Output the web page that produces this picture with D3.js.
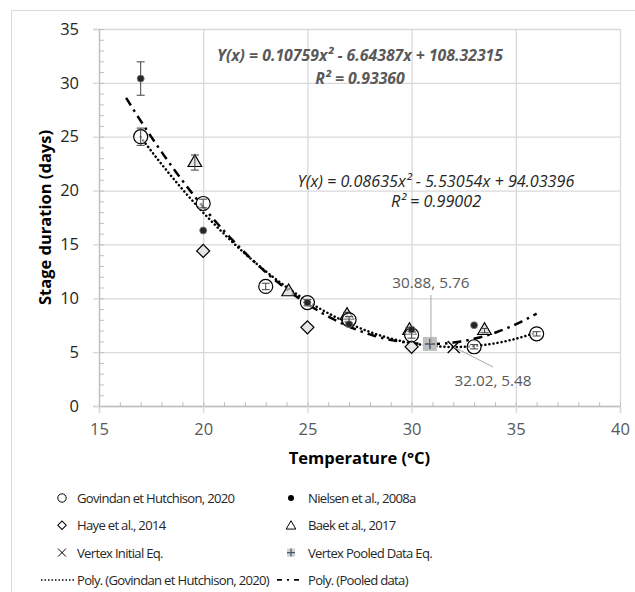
<!DOCTYPE html>
<html>
<head>
<meta charset="utf-8">
<script src="https://cdn.jsdelivr.net/npm/d3@7"></script>
<style>
  body { margin: 0; background: #fff; }
  text { font-family: "Open Sans", "Noto Sans", sans-serif; }
</style>
</head>
<body>
<div id="chart"></div>
<script>
// tick values
var x_ticks = [15, 20, 25, 30, 35, 40];
var y_ticks = [0, 5, 10, 15, 20, 25, 30, 35];

// Govindan et Hutchison, 2020
var gov_temp = [17, 20, 23, 25, 27, 30, 33, 36];
var gov_days = [25.0, 18.8, 11.1, 9.6, 8.0, 6.6, 5.5, 6.7];
var gov_err  = [0.8, 0.4, 0.3, 0.3, 0.3, 0.3, 0.2, 0.2];

// Nielsen et al., 2008a
var niel_temp = [17, 20, 25, 27, 30, 33];
var niel_days = [30.4, 16.3, 9.6, 7.6, 7.1, 7.5];
var niel_err  = [1.55, 0, 0, 0, 0, 0];

// Haye et al., 2014
var haye_temp = [20, 25, 30];
var haye_days = [14.4, 7.3, 5.5];

// Baek et al., 2017
var baek_temp = [19.6, 24.1, 26.9, 29.9, 33.5];
var baek_days = [22.6, 10.6, 8.4, 7.0, 7.0];
var baek_err  = [0.7, 0, 0.3, 0.3, 0.2];

// vertices
var vertex_initial = [32.02, 5.48];
var vertex_pooled = [30.88, 5.76];

// trendline coefficients (a, b, c) and x range
var gov_fit = [0.08635, -5.53054, 94.03396];
var gov_fit_range = [17, 36];
var pooled_fit = [0.10759, -6.64387, 108.32315];
var pooled_fit_range = [16.3, 36];

var chart_width = 635;
var chart_height = 592;
var left = 99, right = 620, top_ = 29, bottom = 406;

var svg = d3.select('#chart')
  .append('svg')
  .attr('width', chart_width)
  .attr('height', chart_height);

// chart border
svg.append('rect')
  .attr('x', 11.5).attr('y', 10.5)
  .attr('width', 640).attr('height', 600)
  .attr('fill', 'none')
  .attr('stroke', '#d9d9d9');

var x_scale = d3.scaleLinear().domain([15, 40]).range([left, right]);
var y_scale = d3.scaleLinear().domain([0, 35]).range([bottom, top_]);

// gridlines
svg.append('g')
  .attr('transform', 'translate(0,' + bottom + ')')
  .call(d3.axisBottom(x_scale).tickValues(x_ticks).tickSize(-(bottom - top_)).tickFormat(''))
  .call(function(g){
    g.select('.domain').remove();
    g.selectAll('line').attr('stroke', '#d9d9d9').attr('stroke-width', 1.3);
  });
svg.append('g')
  .attr('transform', 'translate(' + left + ',0)')
  .call(d3.axisLeft(y_scale).tickValues(y_ticks).tickSize(-(right - left)).tickFormat(''))
  .call(function(g){
    g.select('.domain').remove();
    g.selectAll('line').attr('stroke', '#d9d9d9').attr('stroke-width', 1.3);
  });

// minor ticks
svg.append('g')
  .attr('transform', 'translate(0,' + bottom + ')')
  .call(d3.axisBottom(x_scale).ticks(25).tickSize(-4).tickFormat(''))
  .call(function(g){
    g.select('.domain').remove();
    g.selectAll('line').attr('stroke', '#bfbfbf');
  });
svg.append('g')
  .attr('transform', 'translate(' + left + ',0)')
  .call(d3.axisLeft(y_scale).ticks(35).tickSize(-5).tickFormat(''))
  .call(function(g){
    g.select('.domain').remove();
    g.selectAll('line').attr('stroke', '#bfbfbf');
  });

// main axes
svg.append('g')
  .attr('transform', 'translate(0,' + bottom + ')')
  .call(d3.axisBottom(x_scale).tickValues(x_ticks).tickSize(7).tickPadding(10))
  .call(function(g){
    g.select('.domain').attr('stroke', '#bfbfbf').attr('stroke-width', 1.3);
    g.selectAll('line').attr('stroke', '#d9d9d9').attr('stroke-width', 1.3);
    g.selectAll('text').attr('font-size', 16.5).attr('fill', '#595959')
      .attr('font-family', '"Open Sans", sans-serif');
  });
svg.append('g')
  .attr('transform', 'translate(' + left + ',0)')
  .call(d3.axisLeft(y_scale).tickValues(y_ticks).tickSize(6).tickPadding(14))
  .call(function(g){
    g.select('.domain').attr('stroke', '#bfbfbf').attr('stroke-width', 1.3);
    g.selectAll('line').attr('stroke', '#d9d9d9').attr('stroke-width', 1.3);
    g.selectAll('text').attr('font-size', 16.5).attr('fill', '#262626')
      .attr('font-family', '"Open Sans", sans-serif');
  });

// axis titles
svg.append('text')
  .attr('x', (left + right) / 2).attr('y', 464)
  .attr('text-anchor', 'middle')
  .attr('font-size', 16.5).attr('font-weight', 'bold')
  .text('Temperature (°C)');
svg.append('text')
  .attr('transform', 'translate(51,' + (top_ + bottom) / 2 + ') rotate(-90)')
  .attr('text-anchor', 'middle')
  .attr('font-size', 16.5).attr('font-weight', 'bold')
  .text('Stage duration (days)');

// trendlines
function poly(c){ return function(x){ return c[0] * x * x + c[1] * x + c[2]; }; }
var line = d3.line()
  .x(function(d){ return x_scale(d[0]); })
  .y(function(d){ return y_scale(d[1]); });

var gov_curve = d3.range(gov_fit_range[0], gov_fit_range[1] + 0.001, 0.1)
  .map(function(x){ return [x, poly(gov_fit)(x)]; });
var pooled_curve = d3.range(pooled_fit_range[0], pooled_fit_range[1] + 0.001, 0.1)
  .map(function(x){ return [x, poly(pooled_fit)(x)]; });

svg.append('path')
  .attr('d', line(pooled_curve))
  .attr('fill', 'none').attr('stroke', '#000').attr('stroke-width', 2.5)
  .attr('stroke-dasharray', '9,5,2.5,5');
svg.append('path')
  .attr('d', line(gov_curve))
  .attr('fill', 'none').attr('stroke', '#000').attr('stroke-width', 2.5)
  .attr('stroke-linecap', 'round')
  .attr('stroke-dasharray', '0.1,4');

function zip(t, d, e){
  return t.map(function(v, i){ return { t: v, d: d[i], e: e ? e[i] : 0 }; });
}
var gov = zip(gov_temp, gov_days, gov_err);
var niel = zip(niel_temp, niel_days, niel_err);
var haye = zip(haye_temp, haye_days);
var baek = zip(baek_temp, baek_days, baek_err);

function error_bars(data){
  var g = svg.append('g').attr('stroke', '#404040').attr('stroke-width', 1);
  data.filter(function(d){ return d.e > 0; }).forEach(function(d){
    var x = x_scale(d.t), y1 = y_scale(d.d + d.e), y2 = y_scale(d.d - d.e);
    g.append('line').attr('x1', x).attr('x2', x).attr('y1', y1).attr('y2', y2);
    g.append('line').attr('x1', x - 4).attr('x2', x + 4).attr('y1', y1).attr('y2', y1);
    g.append('line').attr('x1', x - 4).attr('x2', x + 4).attr('y1', y2).attr('y2', y2);
  });
}

// Haye diamonds
svg.selectAll('.haye')
  .data(haye).enter().append('path')
  .attr('d', d3.symbol(d3.symbolSquare, 85)())
  .attr('transform', function(d){ return 'translate(' + x_scale(d.t) + ',' + y_scale(d.d) + ') rotate(45)'; })
  .attr('fill', '#e6e6e6').attr('stroke', '#000').attr('stroke-width', 1.2);

// Baek triangles
svg.selectAll('.baek')
  .data(baek).enter().append('path')
  .attr('d', d3.symbol(d3.symbolTriangle, 80)())
  .attr('transform', function(d){ return 'translate(' + x_scale(d.t) + ',' + y_scale(d.d) + ')'; })
  .attr('fill', '#d9d9d9').attr('fill-opacity', 0.7).attr('stroke', '#000').attr('stroke-width', 1.2);
error_bars(baek);

// Govindan circles
svg.selectAll('.gov')
  .data(gov).enter().append('circle')
  .attr('cx', function(d){ return x_scale(d.t); })
  .attr('cy', function(d){ return y_scale(d.d); })
  .attr('r', 7)
  .attr('fill', '#fff').attr('fill-opacity', 0.6)
  .attr('stroke', '#000').attr('stroke-width', 1.2);
error_bars(gov);

// Nielsen dots
error_bars(niel);
svg.selectAll('.niel')
  .data(niel).enter().append('circle')
  .attr('cx', function(d){ return x_scale(d.t); })
  .attr('cy', function(d){ return y_scale(d.d); })
  .attr('r', 3.5)
  .attr('fill', '#262626').attr('stroke', '#7f7f7f').attr('stroke-width', 0.8);

// vertex pooled (gray square with plus)
var vp = [x_scale(vertex_pooled[0]), y_scale(vertex_pooled[1])];
svg.append('rect')
  .attr('x', vp[0] - 7).attr('y', vp[1] - 7).attr('width', 14).attr('height', 14)
  .attr('fill', '#bfbfbf');
svg.append('path')
  .attr('d', 'M' + (vp[0] - 5) + ',' + vp[1] + 'h10M' + vp[0] + ',' + (vp[1] - 5) + 'v10')
  .attr('stroke', '#44546a').attr('stroke-width', 1.5);

// vertex initial (x)
var vi = [x_scale(vertex_initial[0]), y_scale(vertex_initial[1])];
svg.append('path')
  .attr('d', 'M' + (vi[0] - 6) + ',' + (vi[1] - 6) + 'l12,12M' + (vi[0] + 6) + ',' + (vi[1] - 6) + 'l-12,12')
  .attr('stroke', '#000').attr('stroke-width', 1.3);

// data labels with leader lines
svg.append('line')
  .attr('x1', vp[0] + 1).attr('x2', vp[0] + 1).attr('y1', 295).attr('y2', vp[1])
  .attr('stroke', '#a6a6a6');
svg.append('text')
  .attr('x', vp[0] + 1).attr('y', 288)
  .attr('text-anchor', 'middle').attr('font-size', 15.3).attr('fill', '#595959')
  .text(vertex_pooled[0].toFixed(2) + ', ' + vertex_pooled[1].toFixed(2));
svg.append('line')
  .attr('x1', vi[0]).attr('x2', 493).attr('y1', vi[1]).attr('y2', 367)
  .attr('stroke', '#a6a6a6');
svg.append('text')
  .attr('x', 493).attr('y', 386)
  .attr('text-anchor', 'middle').attr('font-size', 15.3).attr('fill', '#595959')
  .text(vertex_initial[0].toFixed(2) + ', ' + vertex_initial[1].toFixed(2));

// equations
svg.append('text')
  .attr('x', 360).attr('y', 61).attr('text-anchor', 'middle')
  .attr('font-size', 15.8).attr('font-weight', 'bold').attr('font-style', 'italic')
  .attr('fill', '#595959')
  .text('Y(x) = 0.10759x² - 6.64387x + 108.32315');
svg.append('text')
  .attr('x', 360).attr('y', 84).attr('text-anchor', 'middle')
  .attr('font-size', 15.8).attr('font-weight', 'bold').attr('font-style', 'italic')
  .attr('fill', '#595959')
  .text('R² = 0.93360');
svg.append('text')
  .attr('x', 436).attr('y', 187).attr('text-anchor', 'middle')
  .attr('font-size', 16.2).attr('font-style', 'italic')
  .attr('fill', '#262626')
  .text('Y(x) = 0.08635x² - 5.53054x + 94.03396');
svg.append('text')
  .attr('x', 436).attr('y', 207).attr('text-anchor', 'middle')
  .attr('font-size', 16.2).attr('font-style', 'italic')
  .attr('fill', '#262626')
  .text('R² = 0.99002');

// legend
var legend_items = [
  { label: 'Govindan et Hutchison, 2020', col: 0, row: 0, sym: 'circle' },
  { label: 'Nielsen et al., 2008a', col: 1, row: 0, sym: 'dot' },
  { label: 'Haye et al., 2014', col: 0, row: 1, sym: 'diamond' },
  { label: 'Baek et al., 2017', col: 1, row: 1, sym: 'triangle' },
  { label: 'Vertex Initial Eq.', col: 0, row: 2, sym: 'x' },
  { label: 'Vertex Pooled Data Eq.', col: 1, row: 2, sym: 'plus' },
  { label: 'Poly. (Govindan et Hutchison, 2020)', col: 0, row: 3, sym: 'dotted' },
  { label: 'Poly. (Pooled data)', col: 1, row: 3, sym: 'dashdot' }
];
var lg = svg.append('g');
legend_items.forEach(function(it){
  var sx = it.col ? 291 : 62;
  var tx = it.col ? 308 : 77;
  var y = 498 + it.row * 27.3;
  if (it.sym === 'circle') {
    lg.append('circle').attr('cx', sx).attr('cy', y).attr('r', 4.2)
      .attr('fill', 'none').attr('stroke', '#000').attr('stroke-width', 1);
  } else if (it.sym === 'dot') {
    lg.append('circle').attr('cx', sx).attr('cy', y).attr('r', 3).attr('fill', '#000');
  } else if (it.sym === 'diamond') {
    lg.append('path').attr('d', d3.symbol(d3.symbolSquare, 36)())
      .attr('transform', 'translate(' + sx + ',' + y + ') rotate(45)')
      .attr('fill', 'none').attr('stroke', '#000').attr('stroke-width', 1);
  } else if (it.sym === 'triangle') {
    lg.append('path').attr('d', d3.symbol(d3.symbolTriangle, 40)())
      .attr('transform', 'translate(' + sx + ',' + (y + 1) + ')')
      .attr('fill', 'none').attr('stroke', '#000').attr('stroke-width', 1);
  } else if (it.sym === 'x') {
    lg.append('path').attr('d', 'M' + (sx - 4) + ',' + (y - 4) + 'l8,8M' + (sx + 4) + ',' + (y - 4) + 'l-8,8')
      .attr('stroke', '#000').attr('stroke-width', 1);
  } else if (it.sym === 'plus') {
    lg.append('rect').attr('x', sx - 4).attr('y', y - 4).attr('width', 8).attr('height', 8).attr('fill', '#d0d0d0');
    lg.append('path').attr('d', 'M' + (sx - 4) + ',' + y + 'h8M' + sx + ',' + (y - 4) + 'v8')
      .attr('stroke', '#44546a').attr('stroke-width', 1.2);
  } else if (it.sym === 'dotted') {
    lg.append('line').attr('x1', 41).attr('x2', 75).attr('y1', y).attr('y2', y)
      .attr('stroke', '#000').attr('stroke-width', 1.5).attr('stroke-dasharray', '1.5,2');
  } else if (it.sym === 'dashdot') {
    lg.append('line').attr('x1', 277).attr('x2', 301).attr('y1', y).attr('y2', y)
      .attr('stroke', '#000').attr('stroke-width', 1.8).attr('stroke-dasharray', '5,5,2,5,5');
  }
  lg.append('text')
    .attr('x', tx).attr('y', y + 5)
    .attr('font-size', 13.1).attr('letter-spacing', -0.7).attr('fill', '#262626')
    .text(it.label);
});
</script>
</body>
</html>
